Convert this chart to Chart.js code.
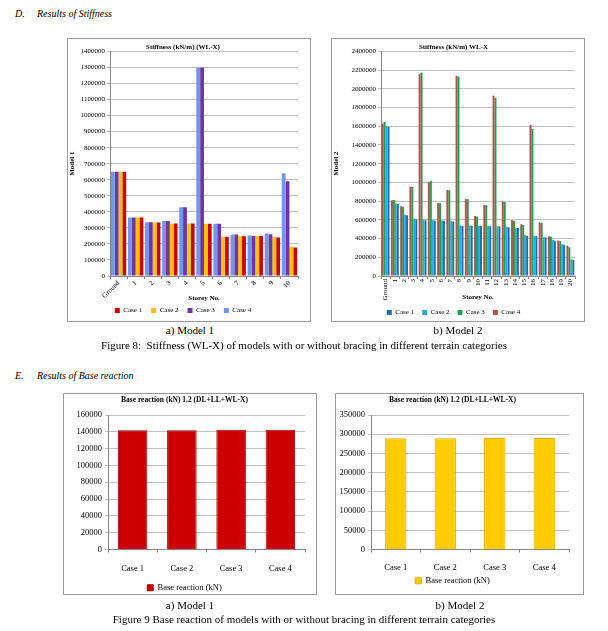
<!DOCTYPE html>
<html>
<head>
<meta charset="utf-8">
<script src="https://cdn.jsdelivr.net/npm/chart.js@4"></script>
<style>
  body { margin: 0; background: #fff; width: 608px; height: 631px; position: relative; overflow: hidden;
         font-family: "Liberation Serif", "Times New Roman", serif; color: #000; }
  .t { position: absolute; white-space: nowrap; line-height: 1; }
  .c { text-align: center; }
  .box { position: absolute; border: 1px solid #9a9a9a; box-sizing: border-box; }
  canvas { position: absolute; }
</style>
</head>
<body>
<div class="t" style="left:15px;top:9px;font-style:italic;font-size:10px">D.</div>
<div class="t" style="left:37px;top:9px;font-style:italic;font-size:10px">Results of Stiffness</div>

<div class="box" style="left:67px;top:38px;width:244px;height:284px"></div>
<div class="box" style="left:331px;top:38px;width:254px;height:284px"></div>
<canvas id="stiff1" width="241" height="285" style="left:68px;top:39px"></canvas>
<canvas id="stiff2" width="252" height="287" style="left:332px;top:39px"></canvas>

<div class="t c" style="left:140px;width:100px;top:325px;font-size:11px">a) Model 1</div>
<div class="t c" style="left:408px;width:100px;top:325px;font-size:11px">b) Model 2</div>
<div class="t c" style="left:0;width:608px;top:340px;font-size:11px">Figure 8:&nbsp; Stiffness (WL-X) of models with or without bracing in different terrain categories</div>

<div class="t" style="left:15px;top:371px;font-style:italic;font-size:10px">E.</div>
<div class="t" style="left:37px;top:371px;font-style:italic;font-size:10px">Results of Base reaction</div>

<div class="box" style="left:63px;top:393px;width:254px;height:202px"></div>
<div class="box" style="left:335px;top:393px;width:249px;height:202px"></div>
<canvas id="base1" width="252" height="208" style="left:64px;top:394px"></canvas>
<canvas id="base2" width="247" height="201" style="left:336px;top:394px"></canvas>

<div class="t c" style="left:140px;width:100px;top:600px;font-size:11px">a) Model 1</div>
<div class="t c" style="left:410px;width:100px;top:600px;font-size:11px">b) Model 2</div>
<div class="t c" style="left:0;width:608px;top:614px;font-size:11px">Figure 9 Base reaction of models with or without bracing in different terrain categories</div>

<script>
// Model 1 stiffness (kN/m), WL-X
const storeys1 = ['Ground', '1', '2', '3', '4', '5', '6', '7', '8', '9', '10'];
const m1Case1 = [650000, 365000, 333000, 328000, 328000, 325000, 245000, 248000, 250000, 240000, 178000];
const m1Case2 = [650000, 365000, 333000, 328000, 328000, 325000, 245000, 248000, 250000, 245000, 183000];
const m1Case3 = [650000, 365000, 335000, 343000, 428000, 1300000, 325000, 258000, 250000, 260000, 590000];
const m1Case4 = [650000, 365000, 335000, 343000, 428000, 1300000, 325000, 258000, 253000, 265000, 640000];

// Model 2 stiffness (kN/m), WL-X
const storeys2 = ['Ground', '1', '2', '3', '4', '5', '6', '7', '8', '9', '10',
                  '11', '12', '13', '14', '15', '16', '17', '18', '19', '20'];
const m2Case1 = [1595000, 770000, 650000, 605000, 597000, 592000, 590000, 583000, 537000, 537000, 535000,
                 532000, 530000, 520000, 512000, 430000, 424000, 412000, 378000, 335000, 172000];
const m2Case2 = [1600000, 775000, 655000, 612000, 600000, 595000, 592000, 588000, 540000, 540000, 538000,
                 535000, 532000, 528000, 515000, 435000, 428000, 415000, 388000, 338000, 180000];
const m2Case3 = [1645000, 812000, 740000, 950000, 2175000, 1015000, 778000, 915000, 2130000, 820000, 635000,
                 755000, 1905000, 790000, 590000, 545000, 1570000, 570000, 420000, 372000, 308000];
const m2Case4 = [1630000, 810000, 745000, 955000, 2160000, 1005000, 780000, 920000, 2140000, 822000, 640000,
                 760000, 1925000, 795000, 595000, 553000, 1615000, 575000, 425000, 380000, 325000];

// Base reaction (kN) 1.2 (DL+LL+WL-X)
const cases = ['Case 1', 'Case 2', 'Case 3', 'Case 4'];
const baseModel1 = [142000, 142000, 142500, 142500];
const baseModel2 = [289500, 289500, 290000, 290000];

Chart.defaults.font.family = '"Liberation Serif", "Times New Roman", serif';
Chart.defaults.color = '#000';

const plain = v => String(v);

function stiffnessChart(id, labels, datasets, o) {
    return new Chart(document.getElementById(id), {
        type: 'bar',
        data: { labels: labels, datasets: datasets },
        options: {
            responsive: false,
            animation: false,
            devicePixelRatio: 1,
            layout: { padding: { left: 0, right: o.right, top: 0, bottom: 0 } },
            datasets: { bar: { categoryPercentage: o.catPct, barPercentage: 1 } },
            plugins: {
                title: { display: true, text: o.title, font: { size: 7, weight: 'bold' }, padding: { top: 4, bottom: 0 } },
                legend: {
                    position: 'bottom', reverse: true,
                    labels: { boxWidth: 5, boxHeight: 5, font: { size: 7 }, padding: o.legendPad }
                },
                tooltip: { enabled: false }
            },
            scales: {
                x: {
                    grid: { drawOnChartArea: false, tickLength: 3, color: '#868686' },
                    border: { color: '#868686' },
                    ticks: { font: { size: 7 }, minRotation: o.rot, maxRotation: o.rot, autoSkip: false, padding: 0 },
                    title: { display: true, text: 'Storey No.', font: { size: 7, weight: 'bold' }, padding: { top: 0, bottom: o.xTitlePad } },
                    afterFit: s => { s.height = o.xHeight; }
                },
                y: {
                    min: 0, max: o.max,
                    grid: { color: '#c0c0c0', tickLength: 3 },
                    border: { color: '#868686' },
                    ticks: { stepSize: o.step, font: { size: 7 }, padding: 2, callback: plain },
                    title: { display: true, text: o.yTitle, font: { size: 7, weight: 'bold' }, padding: 0 },
                    afterFit: s => { s.width = o.yWidth; }
                }
            }
        }
    });
}

stiffnessChart('stiff1', storeys1, [
    { label: 'Case 4', data: m1Case4, backgroundColor: '#7396ea' },
    { label: 'Case 3', data: m1Case3, backgroundColor: '#7134a6' },
    { label: 'Case 2', data: m1Case2, backgroundColor: '#ffc000' },
    { label: 'Case 1', data: m1Case1, backgroundColor: '#cc0000' }
], {
    title: 'Stiffness (kN/m) (WL-X)', yTitle: 'Model 1', max: 1400000, step: 100000,
    right: 11, yWidth: 42, xHeight: 22, xTitlePad: -4, legendPad: 9, rot: 45, catPct: 0.9
});

stiffnessChart('stiff2', storeys2, [
    { label: 'Case 4', data: m2Case4, backgroundColor: '#b0524a' },
    { label: 'Case 3', data: m2Case3, backgroundColor: '#1fa050' },
    { label: 'Case 2', data: m2Case2, backgroundColor: '#2aa9e0' },
    { label: 'Case 1', data: m2Case1, backgroundColor: '#1a6db5' }
], {
    title: 'Stiffness (kN/m) WL-X', yTitle: 'Model 2', max: 2400000, step: 200000,
    right: 9, yWidth: 49, xHeight: 25, xTitlePad: 0, legendPad: 8, rot: 90, catPct: 0.85
});

function baseChart(id, data, o) {
    return new Chart(document.getElementById(id), {
        type: 'bar',
        data: {
            labels: cases,
            datasets: [{
                label: 'Base reaction (kN)', data: data,
                backgroundColor: o.color, borderColor: o.edge, borderWidth: 1
            }]
        },
        options: {
            responsive: false,
            animation: false,
            devicePixelRatio: 1,
            layout: { padding: { left: 0, right: o.right, top: 0, bottom: 0 } },
            datasets: { bar: { categoryPercentage: o.catPct, barPercentage: 1 } },
            plugins: {
                title: { display: true, text: 'Base reaction (kN) 1.2 (DL+LL+WL-X)', font: { size: 7.5, weight: 'bold' }, padding: { top: 1.5, bottom: 10.5 } },
                legend: { position: 'bottom', labels: { boxWidth: 6, boxHeight: 6, font: { size: 8.5 }, padding: 4 } },
                tooltip: { enabled: false }
            },
            scales: {
                x: {
                    grid: { drawOnChartArea: false, tickLength: 3, color: '#868686' },
                    border: { color: '#868686' },
                    ticks: { font: { size: 8.5 }, padding: o.xPad },
                    afterFit: s => { s.height = o.xHeight; }
                },
                y: {
                    min: 0, max: o.max,
                    grid: { color: '#c0c0c0', tickLength: 3 },
                    border: { color: '#868686' },
                    ticks: { stepSize: o.step, font: { size: 8.5 }, padding: 3, callback: plain },
                    afterFit: s => { s.width = o.yWidth; }
                }
            }
        }
    });
}

baseChart('base1', baseModel1, {
    color: '#cc0000', edge: '#9a0000', max: 160000, step: 20000,
    right: 11, yWidth: 44, xHeight: 30, xPad: 11, catPct: 0.6
});

baseChart('base2', baseModel2, {
    color: '#ffcc00', edge: '#e0a800', max: 350000, step: 50000,
    right: 14, yWidth: 35, xHeight: 23, xPad: 10, catPct: 0.43
});
</script>
</body>
</html>
